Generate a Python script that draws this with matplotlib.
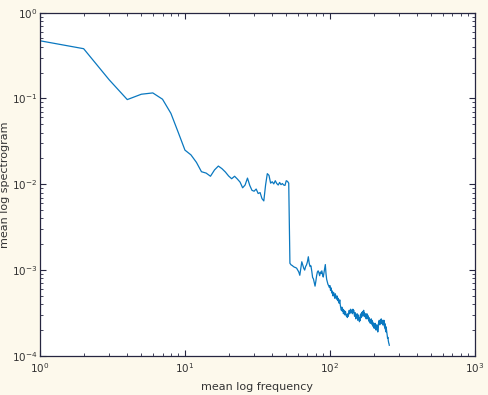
import numpy as np
import matplotlib
matplotlib.use('Agg')
import matplotlib.pyplot as plt
from matplotlib.ticker import LogLocator, LogFormatterMathtext, NullFormatter

# -------------------------
# Datos
# -------------------------
freq = np.arange(1, 258)

spec_low = [0.47, 0.38, 0.165, 0.097, 0.112, 0.116, 0.098, 0.067, 0.040, 0.025,
            0.022, 0.018, 0.0140, 0.0135, 0.0124, 0.0147, 0.0163, 0.0152, 0.0139, 0.0125,
            0.0116, 0.0124, 0.0115, 0.0106, 0.0091, 0.0098, 0.0118, 0.0097, 0.0085, 0.0083,
            0.0088, 0.0078, 0.0080, 0.0068, 0.0064, 0.0098, 0.0133, 0.0127, 0.0103, 0.0107,
            0.0101, 0.0110, 0.0102, 0.0098, 0.0105, 0.0099, 0.0102, 0.0098, 0.0097, 0.0110,
            0.0108, 0.0103]

spec_mid = [0.00120, 0.00115, 0.00113, 0.00110, 0.00108, 0.00107, 0.00105, 0.00100,
            0.00095, 0.00087, 0.00105, 0.00125, 0.00115, 0.00105, 0.00100, 0.00110,
            0.00115, 0.00125, 0.00143, 0.00120, 0.00110, 0.00112, 0.00097, 0.00082,
            0.00079, 0.00072, 0.00065, 0.00074, 0.00086, 0.00095, 0.00098, 0.00093,
            0.00086, 0.00095, 0.00091, 0.00098, 0.00089, 0.00083, 0.00093, 0.00103,
            0.00116, 0.00091, 0.00078, 0.00073, 0.00068, 0.00066, 0.00063, 0.00066]

spec_high = [0.00058, 0.00062, 0.00054, 0.00057, 0.00050, 0.00055, 0.00052, 0.00047, 0.00053, 0.00049,
             0.00046, 0.00050, 0.00044, 0.00047, 0.00043, 0.00041, 0.00045, 0.00039, 0.00036, 0.00034,
             0.00037, 0.00033, 0.00035, 0.00031, 0.00034, 0.00032, 0.00030, 0.00033, 0.00031, 0.00029,
             0.00030, 0.00028, 0.00031, 0.00029, 0.00032, 0.00034, 0.00031, 0.00033, 0.00035, 0.00032,
             0.00034, 0.00033, 0.00031, 0.00035, 0.00032, 0.00034, 0.00031, 0.00029, 0.00032, 0.00030,
             0.00027, 0.00030, 0.00028, 0.00031, 0.00029, 0.00026, 0.00028, 0.00030, 0.00027, 0.00025,
             0.00028, 0.00026, 0.00029, 0.00031, 0.00028, 0.00032, 0.00030, 0.00033, 0.00029, 0.00031,
             0.00034, 0.00030, 0.00032, 0.00029, 0.00031, 0.00028, 0.00030, 0.00027, 0.00029, 0.00031,
             0.00028, 0.00030, 0.00027, 0.00029, 0.00026, 0.00028, 0.00025, 0.00027, 0.00026, 0.00024,
             0.00026, 0.00025, 0.00027, 0.00024, 0.00026, 0.00023, 0.00025, 0.00024, 0.00022, 0.00024,
             0.00023, 0.00021, 0.00023, 0.00022, 0.00024, 0.00021, 0.00023, 0.00020, 0.00022, 0.00021,
             0.00023, 0.00020, 0.00022, 0.00019, 0.00021, 0.00023, 0.00025, 0.00024, 0.00026, 0.00025,
             0.00023, 0.00025, 0.00024, 0.00026, 0.00024, 0.00027, 0.00025, 0.00026, 0.00024, 0.00025,
             0.00023, 0.00026, 0.00024, 0.00025, 0.00023, 0.00026, 0.00024, 0.00022, 0.00024, 0.00021,
             0.00023, 0.00020, 0.00022, 0.00019, 0.00021, 0.00020, 0.00019, 0.00018, 0.00017, 0.00016,
             0.000165, 0.00016, 0.00015, 0.000145, 0.00014, 0.000138, 0.000133]

spec = np.array(spec_low + spec_mid + spec_high)

# -------------------------
# Figura
# -------------------------
bg = '#fdf9ec'
edge = '#262640'

fig = plt.figure(figsize=(4.88, 3.95), dpi=100, facecolor=bg)
ax = fig.add_axes([0.082, 0.099, 0.891, 0.869])
ax.set_facecolor('white')

ax.loglog(freq, spec, color='#0a78c0', lw=0.9)

ax.set_xlim(1, 1000)
ax.set_ylim(1e-4, 1)
ax.xaxis.set_major_locator(LogLocator(base=10, numticks=10))
ax.yaxis.set_major_locator(LogLocator(base=10, numticks=10))
ax.xaxis.set_minor_locator(LogLocator(base=10, subs=np.arange(2, 10), numticks=20))
ax.yaxis.set_minor_locator(LogLocator(base=10, subs=np.arange(2, 10), numticks=20))
ax.xaxis.set_major_formatter(LogFormatterMathtext())
ax.yaxis.set_major_formatter(LogFormatterMathtext())
ax.xaxis.set_minor_formatter(NullFormatter())
ax.yaxis.set_minor_formatter(NullFormatter())

ax.tick_params(which='both', direction='in', top=True, right=True, colors=edge,
               labelcolor='#333333', labelsize=7.5)
ax.tick_params(which='major', length=4, width=0.8, pad=2)
ax.tick_params(which='minor', length=2, width=0.6)
ax.tick_params(axis='x', which='major', pad=4)
for s in ax.spines.values():
    s.set_color(edge)
    s.set_linewidth(0.9)

ax.set_xlabel('mean log frequency', fontsize=8, color='#333333')
ax.set_ylabel('mean log spectrogram', fontsize=8, color='#333333')
ax.xaxis.set_label_coords(0.5, -0.075)
ax.yaxis.set_label_coords(-0.069, 0.5)

fig.savefig('out.png', dpi=100, facecolor=bg)
